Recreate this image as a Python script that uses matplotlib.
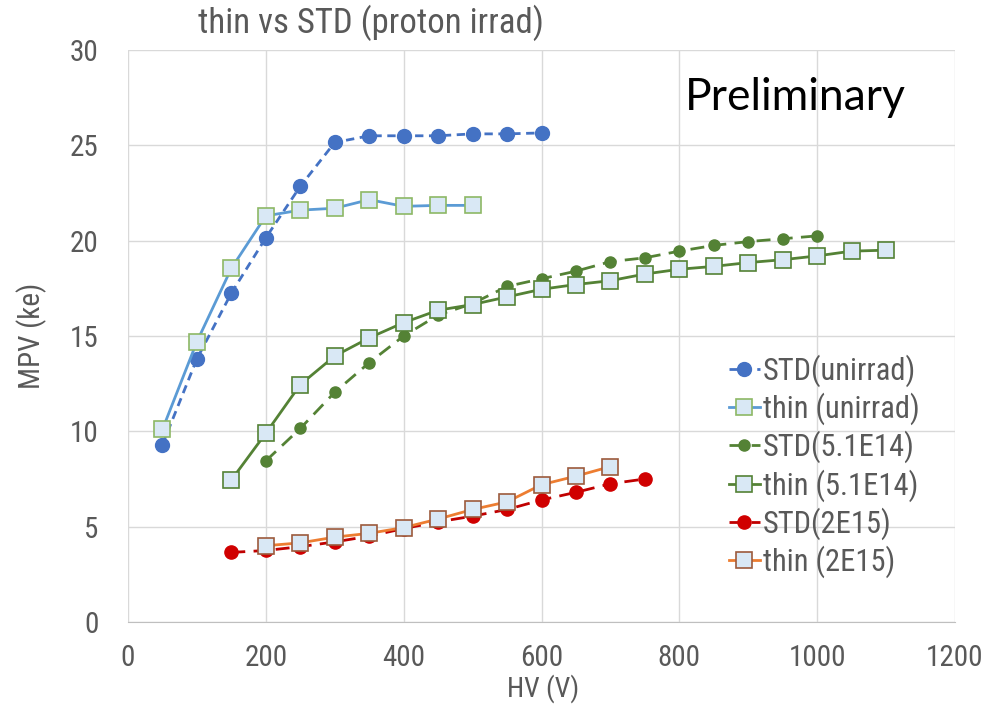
import numpy as np
import matplotlib
matplotlib.use("Agg")
import matplotlib.pyplot as plt

# MPV vs bias voltage for thin and standard sensors
hv_std_unirr = [50, 100, 150, 200, 250, 300, 350, 400, 450, 500, 550, 600]
mpv_std_unirr = [9.3, 13.8, 17.25, 20.15, 22.85, 25.15, 25.5, 25.5, 25.5, 25.6, 25.6, 25.65]

hv_thin_unirr = [50, 100, 150, 200, 250, 300, 350, 400, 450, 500]
mpv_thin_unirr = [10.1, 14.7, 18.55, 21.3, 21.6, 21.7, 22.15, 21.8, 21.85, 21.85]

hv_std_514 = [200, 250, 300, 350, 400, 450, 500, 550, 600, 650, 700, 750, 800, 850, 900, 950, 1000]
mpv_std_514 = [8.45, 10.15, 12.05, 13.6, 15.0, 16.1, 16.7, 17.6, 18.0, 18.4, 18.9, 19.1, 19.45, 19.75, 19.95, 20.1, 20.25]

hv_thin_514 = [150, 200, 250, 300, 350, 400, 450, 500, 550, 600, 650, 700, 750, 800, 850, 900, 950, 1000, 1050, 1100]
mpv_thin_514 = [7.45, 9.9, 12.45, 13.95, 14.9, 15.7, 16.35, 16.65, 17.05, 17.45, 17.7, 17.9, 18.25, 18.5, 18.65, 18.85, 19.0, 19.2, 19.45, 19.5]

hv_std_2e15 = [150, 200, 250, 300, 350, 400, 450, 500, 550, 600, 650, 700, 750]
mpv_std_2e15 = [3.65, 3.75, 3.95, 4.2, 4.5, 4.9, 5.25, 5.55, 5.9, 6.4, 6.8, 7.25, 7.5]

hv_thin_2e15 = [200, 250, 300, 350, 400, 450, 500, 550, 600, 650, 700]
mpv_thin_2e15 = [4.0, 4.15, 4.45, 4.65, 4.95, 5.4, 5.9, 6.3, 7.2, 7.65, 8.15]

narrow = ['Roboto Condensed', 'Liberation Sans Narrow', 'Roboto', 'DejaVu Sans']
grey_txt = '#595959'
sq_fill = '#D9E8F5'

fig = plt.figure(figsize=(10, 7.04), dpi=100)
ax = fig.add_axes([0.128, 0.1165, 0.827, 0.8125])

ax.plot(hv_std_unirr, mpv_std_unirr, color='#4472C4', lw=2, ls=(0, (3, 2)),
        marker='o', ms=10, mfc='#4472C4', mec='#4472C4', label='STD(unirrad)', zorder=3)
ax.plot(hv_thin_unirr, mpv_thin_unirr, color='#5B9BD5', lw=2, ls='-',
        marker='s', ms=11.5, mfc=sq_fill, mec='#8DB865', mew=1.2, label='thin (unirrad)', zorder=4)
ax.plot(hv_std_514, mpv_std_514, color='#548235', lw=2, ls=(0, (5, 3)),
        marker='o', ms=8, mfc='#548235', mec='#548235', label='STD(5.1E14)', zorder=3)
ax.plot(hv_thin_514, mpv_thin_514, color='#548235', lw=2, ls='-',
        marker='s', ms=11.5, mfc=sq_fill, mec='#548235', mew=1.2, label='thin (5.1E14)', zorder=4)
ax.plot(hv_std_2e15, mpv_std_2e15, color='#C00000', lw=2, ls=(0, (5, 3)),
        marker='o', ms=9.5, mfc='#D00000', mec='#D00000', label='STD(2E15)', zorder=3)
ax.plot(hv_thin_2e15, mpv_thin_2e15, color='#ED7D31', lw=2, ls='-',
        marker='s', ms=11.5, mfc=sq_fill, mec='#9C5A3C', mew=1.2, label='thin (2E15)', zorder=4)

ax.set_xlim(0, 1200)
ax.set_ylim(0, 30)
ax.set_xticks(np.arange(0, 1201, 200))
ax.set_yticks(np.arange(0, 31, 5))
ax.grid(True, color='#D9D9D9', lw=1)
ax.set_axisbelow(True)
for side in ['top', 'left', 'right']:
    ax.spines[side].set_visible(False)
ax.spines['bottom'].set_color('#BFBFBF')
ax.tick_params(length=0, labelsize=21, labelcolor=grey_txt)
ax.tick_params(axis='y', pad=21)
ax.tick_params(axis='x', pad=16)
for lbl in ax.get_xticklabels() + ax.get_yticklabels():
    lbl.set_family(narrow)

ax.set_xlabel('HV (V)', fontsize=20, color=grey_txt, family=narrow, va='center')
ax.set_ylabel('MPV (ke)', fontsize=21, color=grey_txt, family=narrow, va='center')
ax.xaxis.set_label_coords(0.502, -0.117)
ax.yaxis.set_label_coords(-0.116, 0.5)

fig.text(0.371, 0.968, 'thin vs STD (proton irrad)', fontsize=25, color=grey_txt,
         family=narrow, ha='center', va='center')
fig.text(0.685, 0.862, 'Preliminary', fontsize=32,
         color='black', family=['Lato', 'DejaVu Sans'], ha='left', va='center')

leg = ax.legend(loc='upper left', bbox_to_anchor=(0.712, 0.49), frameon=False,
                fontsize=22, handlelength=1.0, handletextpad=0.1, labelspacing=0.19,
                borderaxespad=0)
for t in leg.get_texts():
    t.set_color(grey_txt)
    t.set_family(narrow)

fig.savefig('out.png', dpi=100)
